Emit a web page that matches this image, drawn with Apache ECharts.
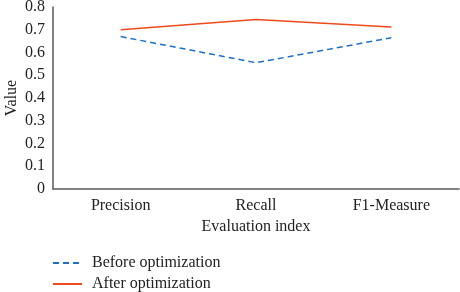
<!DOCTYPE html>
<html>
<head>
<meta charset="utf-8">
<script src="https://cdn.jsdelivr.net/npm/echarts@6/dist/echarts.min.js"></script>
<style>
  html, body { margin: 0; padding: 0; background: #fff; }
  #main { width: 460px; height: 292px; }
</style>
</head>
<body>
<div id="main"></div>
<script>
var categories = ['Precision', 'Recall', 'F1-Measure'];
var beforeValues = [0.67, 0.555, 0.665];
var afterValues = [0.70, 0.745, 0.712];
var yTicks = [0, 0.1, 0.2, 0.3, 0.4, 0.5, 0.6, 0.7, 0.8];

var font = '"Liberation Serif", "DejaVu Serif", serif';
var myChart = echarts.init(document.getElementById('main'));

var option = {
    animation: false,
    grid: { left: 53, right: 1, top: 7, bottom: 103, containLabel: false, outerBoundsMode: 'none' },
    legend: {
        orient: 'vertical',
        left: 52,
        top: 255,
        padding: 0,
        itemWidth: 29,
        itemHeight: 14,
        itemGap: 5,
        data: ['Before optimization', 'After optimization'],
        itemStyle: { opacity: 0 },
        textStyle: { fontFamily: font, fontSize: 16, color: '#222', padding: [0, 0, 0, 5] }
    },
    xAxis: {
        type: 'category',
        data: categories,
        boundaryGap: true,
        name: 'Evaluation index',
        nameLocation: 'middle',
        nameGap: 30,
        nameTextStyle: { fontFamily: font, fontSize: 16, color: '#222' },
        axisLine: { lineStyle: { color: '#595959', width: 1.5 } },
        axisTick: { show: false },
        axisLabel: { fontFamily: font, fontSize: 16, color: '#222', margin: 9 }
    },
    yAxis: {
        type: 'value',
        min: yTicks[0],
        max: yTicks[yTicks.length - 1],
        interval: 0.1,
        name: 'Value',
        nameLocation: 'middle',
        nameGap: 33,
        nameMoveOverlap: false,
        nameTextStyle: { fontFamily: font, fontSize: 16, color: '#222' },
        axisLine: { show: true, lineStyle: { color: '#595959', width: 1.5 } },
        axisTick: { show: false },
        splitLine: { show: false },
        axisLabel: { fontFamily: font, fontSize: 16, color: '#222', margin: 8 }
    },
    series: [
        {
            name: 'Before optimization',
            type: 'line',
            data: beforeValues,
            symbol: 'none',
            itemStyle: { color: '#1f6fc5' },
            lineStyle: { color: '#1f6fc5', width: 1.5, type: [6, 4] }
        },
        {
            name: 'After optimization',
            type: 'line',
            data: afterValues,
            symbol: 'none',
            itemStyle: { color: '#ee4a1e' },
            lineStyle: { color: '#ee4a1e', width: 1.5 }
        }
    ]
};

myChart.setOption(option);
</script>
</body>
</html>
